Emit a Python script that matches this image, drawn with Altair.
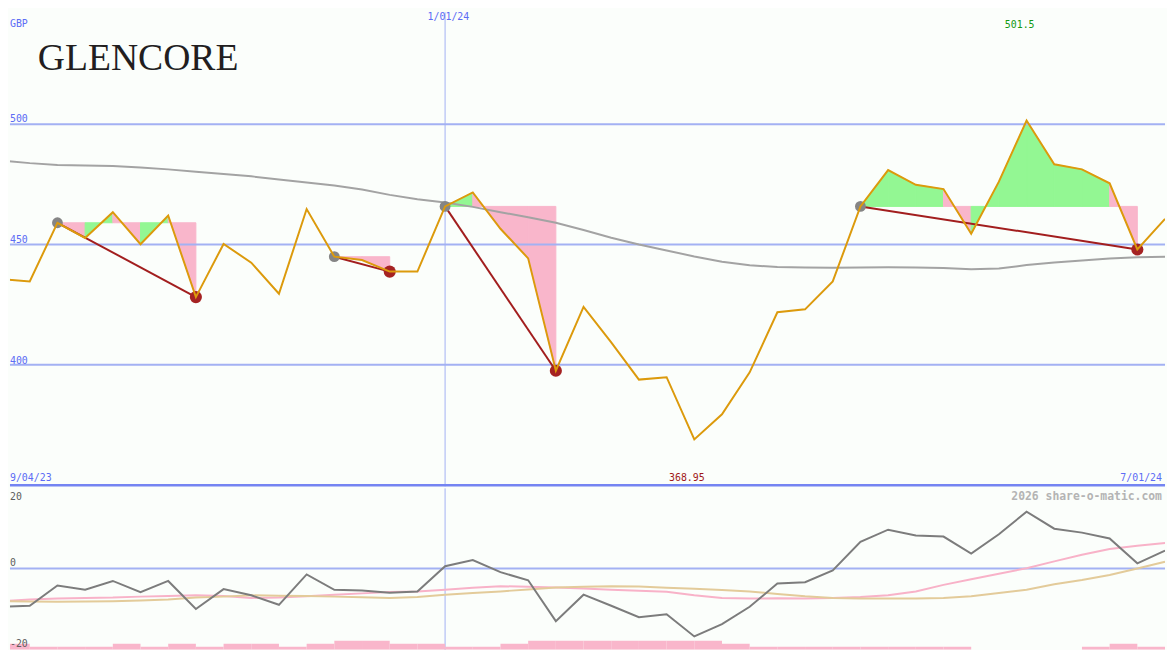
import altair as alt
import pandas as pd

# ---------------- data (weekly points, index 0..42) ----------------
price = [435.5, 434.6, 459.0, 452.7, 463.4, 450.1, 462.0, 428.1, 450.2, 442.4,
         429.5, 464.7, 444.9, 443.5, 438.7, 438.7, 465.8, 471.6, 456.5, 444.2,
         397.5, 424.0, 409.3, 393.8, 394.8, 368.95, 379.4, 396.8, 421.8, 423.0,
         434.6, 465.8, 480.9, 474.8, 473.0, 454.4, 476.1, 501.5, 483.3, 481.2,
         475.4, 447.9, 460.6]
ma_slow = [484.9, 483.8, 483.0, 482.8, 482.6, 482.0, 481.2, 480.2, 479.3, 478.3,
           477.0, 475.7, 474.5, 472.8, 470.6, 468.8, 467.4, 465.6, 463.4, 461.3,
           459.0, 456.0, 452.8, 450.0, 447.5, 445.0, 442.8, 441.3, 440.6, 440.4,
           440.3, 440.4, 440.5, 440.4, 440.2, 439.7, 440.0, 441.4, 442.5, 443.3,
           444.1, 444.7, 444.9]
osc = [-11.7, -11.4, -5.2, -6.5, -3.8, -7.2, -3.8, -12.4, -6.3, -8.2,
       -11.1, -1.8, -6.5, -6.7, -7.4, -7.0, 0.7, 2.6, -1.1, -3.6,
       -16.1, -8.0, -11.4, -14.9, -14.0, -20.8, -17.0, -11.7, -4.6, -4.2,
       -0.6, 8.2, 11.9, 10.1, 9.8, 4.6, 10.5, 17.4, 12.2, 11.0,
       9.2, 1.6, 5.5]
osc_pink = [-10.0, -9.5, -9.2, -9.0, -8.9, -8.6, -8.4, -8.2, -8.4, -9.0,
            -8.9, -8.5, -8.0, -7.6, -7.2, -7.0, -6.5, -5.9, -5.4, -5.6,
            -5.8, -6.1, -6.5, -6.8, -7.1, -8.2, -9.0, -9.2, -9.1, -9.2,
            -9.0, -8.7, -8.2, -7.0, -5.0, -3.3, -1.6, 0.1, 2.2, 4.2,
            6.0, 7.0, 7.8]
osc_tan = [-10.0, -10.1, -10.2, -10.1, -10.0, -9.8, -9.5, -8.9, -8.6, -8.2,
           -8.3, -8.4, -8.6, -8.8, -9.0, -8.7, -8.0, -7.5, -7.0, -6.4,
           -5.8, -5.6, -5.4, -5.5, -5.9, -6.2, -6.6, -7.0, -7.8, -8.5,
           -9.0, -9.2, -9.2, -9.2, -9.0, -8.5, -7.5, -6.5, -4.8, -3.5,
           -2.0, 0.0, 2.1]
bar_level = [2, 1, 1, 1, 2, 1, 2, 1, 2, 2, 1, 2, 3, 3, 2, 2, 1, 1, 2, 3, 3,
             3, 3, 3, 3, 3, 2, 1, 1, 1, 1, 1, 1, 1, 1, 0, 0, 0, 0, 1, 2, 1]
peaks = [2, 12, 16, 31]
troughs = [7, 14, 20, 41]
price_grid = [500, 450, 400]
x_labels = ["9/04/23", "1/01/24", "7/01/24"]
jan_idx = 16

# ---------------- layout ----------------
W = 1167
H_TOP = 479
H_BOT = 163
X_MIN = 0.286
TOP_DOM = [349.4, 546.5]
BOT_DOM = [-24.85, 24.55]
BG = "#fbfefb"
BLUE_TXT = "#5c6cf5"
GRID = "#a3b1f3"
MONO = "DejaVu Sans Mono"

n = len(price)
xs = alt.Scale(domain=[X_MIN, n - 1], nice=False, zero=False)
ys = alt.Scale(domain=TOP_DOM, nice=False, zero=False)
yb = alt.Scale(domain=BOT_DOM, nice=False, zero=False)

df = pd.DataFrame({"i": list(range(n)), "price": price, "ma": ma_slow,
                   "osc": osc, "pink": osc_pink, "tan": osc_tan})

# shaded segments between peak level and price
seg_rows = []
sid = 0
for p, t in zip(peaks, troughs):
    lvl = price[p]
    for i in range(p, t):
        d = "up" if price[i + 1] > lvl else "down"
        seg_rows.append({"seg": sid, "i": i, "y": price[i], "lvl": lvl, "dir": d})
        seg_rows.append({"seg": sid, "i": i + 1, "y": price[i + 1], "lvl": lvl, "dir": d})
        sid += 1
segs = pd.DataFrame(seg_rows)

trend = pd.DataFrame([{"k": k, "i": i, "y": price[i]}
                      for k, (p, t) in enumerate(zip(peaks, troughs)) for i in (p, t)])
pk = pd.DataFrame({"i": peaks, "y": [price[p] for p in peaks]})
tr = pd.DataFrame({"i": troughs, "y": [price[t] for t in troughs]})

X = alt.X("i:Q", scale=xs, axis=None)
fill_scale = alt.Scale(domain=["up", "down"], range=["#93f793", "#f9b6cb"])

area = alt.Chart(segs).mark_area(opacity=1, clip=True, strokeWidth=1).encode(
    x=X, y=alt.Y("y:Q", scale=ys, axis=None), y2="lvl:Q",
    color=alt.Color("dir:N", scale=fill_scale, legend=None),
    stroke=alt.Stroke("dir:N", scale=fill_scale, legend=None),
    detail="seg:N")

hgrid = alt.Chart(pd.DataFrame({"v": price_grid})).mark_rule(
    color=GRID, strokeWidth=2).encode(y=alt.Y("v:Q", scale=ys, axis=None))
vgrid = alt.Chart(pd.DataFrame({"i": [jan_idx]})).mark_rule(
    color=GRID, strokeWidth=1).encode(x=X)
sep = alt.Chart(pd.DataFrame({"v": [TOP_DOM[0] + 0.45]})).mark_rule(
    color="#7484f2", strokeWidth=2.5).encode(y=alt.Y("v:Q", scale=ys, axis=None))

ma_line = alt.Chart(df).mark_line(color="#a3a3a3", strokeWidth=2, clip=True).encode(
    x=X, y=alt.Y("ma:Q", scale=ys, axis=None))
trend_line = alt.Chart(trend).mark_line(color="#a21e1e", strokeWidth=2).encode(
    x=X, y=alt.Y("y:Q", scale=ys, axis=None), detail="k:N")
pk_pts = alt.Chart(pk).mark_circle(color="#858585", size=120, opacity=1).encode(
    x=X, y=alt.Y("y:Q", scale=ys, axis=None))
tr_pts = alt.Chart(tr).mark_circle(color="#a52222", size=150, opacity=1).encode(
    x=X, y=alt.Y("y:Q", scale=ys, axis=None))
price_line = alt.Chart(df).mark_line(color="#dc9a0c", strokeWidth=2, clip=True).encode(
    x=X, y=alt.Y("price:Q", scale=ys, axis=None))

top_labels = pd.DataFrame([
    {"t": "GBP", "i": X_MIN, "y": 541.6, "c": BLUE_TXT, "a": "left", "b": "middle"},
    {"t": "500", "i": X_MIN, "y": 502.1, "c": BLUE_TXT, "a": "left", "b": "middle"},
    {"t": "450", "i": X_MIN, "y": 451.9, "c": BLUE_TXT, "a": "left", "b": "middle"},
    {"t": "400", "i": X_MIN, "y": 401.6, "c": BLUE_TXT, "a": "left", "b": "middle"},
    {"t": x_labels[1], "i": 16.12, "y": TOP_DOM[1], "c": BLUE_TXT, "a": "center", "b": "top"},
    {"t": "501.5", "i": 36.75, "y": 541.2, "c": "#139a13", "a": "center", "b": "middle"},
    {"t": x_labels[0], "i": X_MIN, "y": 352.7, "c": BLUE_TXT, "a": "left", "b": "middle"},
    {"t": "368.95", "i": 24.73, "y": 352.7, "c": "#a01818", "a": "center", "b": "middle"},
    {"t": x_labels[2], "i": 41.89, "y": 352.7, "c": BLUE_TXT, "a": "right", "b": "middle"},
])


def txt_layer(d, scale_y, size=10, weight="normal"):
    layers = []
    for a in ["left", "center", "right"]:
        for b in ["top", "middle"]:
            sub = d[(d["a"] == a) & (d["b"] == b)]
            if len(sub) == 0:
                continue
            layers.append(alt.Chart(sub).mark_text(font=MONO, fontSize=size, fontWeight=weight,
                                                   baseline=b, align=a).encode(
                x=X, y=alt.Y("y:Q", scale=scale_y, axis=None), text="t:N",
                color=alt.Color("c:N", scale=None)))
    return layers


logo = alt.Chart(pd.DataFrame({"t": ["GLENCORE"], "i": [1.29], "y": [522.6]})).mark_text(
    font="Liberation Serif", fontSize=38, align="left", baseline="alphabetic",
    color="#221e1f").encode(x=X, y=alt.Y("y:Q", scale=ys, axis=None), text="t:N")

top = alt.layer(area, hgrid, vgrid, ma_line, trend_line, pk_pts, tr_pts, price_line, sep,
                *txt_layer(top_labels, ys), logo).properties(width=W, height=H_TOP)

# ---------------- bottom panel ----------------
bars = pd.DataFrame({"i": list(range(len(bar_level))),
                     "i2": [k + 1 for k in range(len(bar_level))],
                     "b0": [BOT_DOM[0]] * len(bar_level),
                     "b1": [BOT_DOM[0] + 0.91 * v for v in bar_level]})
bars = bars[[v > 0 for v in bar_level]]
bar_layer = alt.Chart(bars).mark_rect(color="#f9b6cb", clip=True).encode(
    x=X, x2="i2:Q", y=alt.Y("b0:Q", scale=yb, axis=None), y2="b1:Q")
zero = alt.Chart(pd.DataFrame({"v": [0]})).mark_rule(color=GRID, strokeWidth=2).encode(
    y=alt.Y("v:Q", scale=yb, axis=None))
vgrid_b = alt.Chart(pd.DataFrame({"i": [jan_idx]})).mark_rule(
    color=GRID, strokeWidth=1).encode(x=X)
pink_l = alt.Chart(df).mark_line(color="#f8b2c8", strokeWidth=2, clip=True).encode(
    x=X, y=alt.Y("pink:Q", scale=yb, axis=None))
tan_l = alt.Chart(df).mark_line(color="#e3cb9a", strokeWidth=2, clip=True).encode(
    x=X, y=alt.Y("tan:Q", scale=yb, axis=None))
osc_l = alt.Chart(df).mark_line(color="#7c7c7c", strokeWidth=2, clip=True).encode(
    x=X, y=alt.Y("osc:Q", scale=yb, axis=None))

bot_labels = pd.DataFrame([
    {"t": "20", "i": X_MIN, "y": 21.8, "c": "#5e5e5e", "a": "left", "b": "middle"},
    {"t": "0", "i": X_MIN, "y": 1.8, "c": "#5e5e5e", "a": "left", "b": "middle"},
    {"t": "-20", "i": X_MIN, "y": -23.0, "c": "#5e5e5e", "a": "left", "b": "middle"},
])
credit = pd.DataFrame([{"t": "2026 share-o-matic.com", "i": 41.89, "y": 21.8,
                        "c": "#b4b4b4", "a": "right", "b": "middle"}])

bottom = alt.layer(zero, vgrid_b, bar_layer, pink_l, tan_l, osc_l,
                   *txt_layer(bot_labels, yb),
                   *txt_layer(credit, yb, size=11.5, weight="bold")).properties(
    width=W, height=H_BOT)

chart = alt.vconcat(top, bottom, spacing=0).properties(
    padding=0, background=BG
).configure_view(stroke=None).configure_concat(spacing=0)

chart.save("out.html", embed_options={"renderer": "svg", "actions": False})
